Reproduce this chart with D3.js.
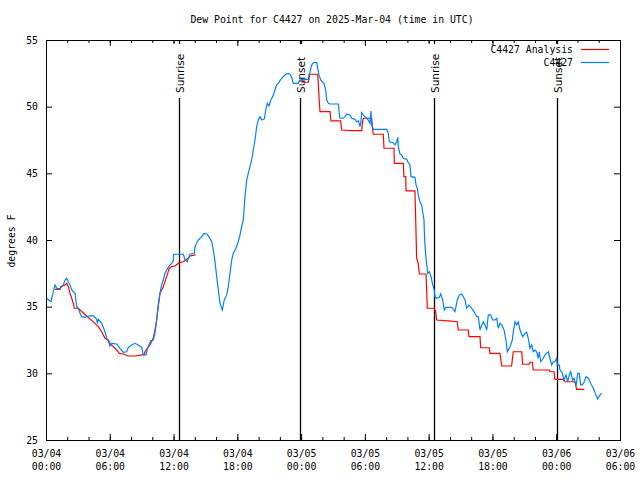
<!DOCTYPE html>
<html><head><meta charset="utf-8">
<script src="https://cdn.jsdelivr.net/npm/d3@7"></script>
<style>body{margin:0;background:#fff}</style>
</head><body>
<svg id="c" width="640" height="480"></svg>
<script>
// ---- data (hours since 2025-03-04 00:00 UTC, dew point °F) ----
const titleText = "Dew Point for C4427 on 2025-Mar-04 (time in UTC)";
const yLabel = "degrees F";
const yTicks = [25, 30, 35, 40, 45, 50, 55];
const seriesNames = ["C4427 Analysis", "C4427"];
const eventLabels = ["Sunrise", "Sunset", "Sunrise", "Sunset"];
const eventHours = [12.55, 23.93, 36.53, 48.04];

const observed = [
[0.07,35.63],[0.47,35.37],[0.69,36.12],[0.85,36.63],[1.0,36.38],[1.32,36.33],[1.48,36.5],[1.63,36.63],[1.79,37.0],[1.95,37.13],[2.1,36.87],[2.26,36.63],[2.42,36.25],[2.57,36.12],[2.73,36.0],[2.89,35.0],[3.04,34.88],[3.2,34.5],[3.36,34.25],[3.67,34.2],[3.98,34.3],[4.45,34.32],[4.61,34.2],[4.77,34.05],[4.83,33.75],[4.92,34.05],[5.24,33.75],[5.55,33.12],[5.71,32.63],[5.86,32.45],[6.02,32.05],[6.18,32.25],[6.65,32.2],[6.96,31.88],[7.27,31.58],[7.59,31.62],[7.74,31.95],[8.06,32.13],[8.37,32.25],[8.68,32.13],[9.0,31.95],[9.15,31.38],[9.41,31.38],[9.47,31.62],[9.62,32.0],[9.85,32.45],[10.09,32.5],[10.25,33.0],[10.41,34.0],[10.56,35.0],[10.72,36.0],[10.88,36.63],[11.03,37.0],[11.19,37.5],[11.35,37.75],[11.5,37.95],[11.66,38.13],[11.83,38.25],[11.98,38.43],[12.0,38.93],
[12.92,38.93],[13.08,38.55],[13.29,38.37],[13.55,38.93],[13.95,39.0],[14.02,39.5],[14.18,39.8],[14.33,40.0],[14.65,40.25],[14.86,40.5],[15.12,40.45],[15.33,40.25],[15.59,39.87],[15.74,39.25],[15.9,38.37],[16.06,37.25],[16.21,36.25],[16.37,35.25],[16.59,34.75],[16.77,35.5],[17.0,35.88],[17.15,36.5],[17.31,37.5],[17.47,38.5],[17.62,39.0],[17.87,39.38],[18.09,39.87],[18.25,40.38],[18.41,41.0],[18.56,41.5],
[18.72,43.25],[18.88,44.5],[19.03,45.0],[19.19,45.5],[19.35,46.0],[19.5,46.75],[19.66,47.5],[19.82,48.5],[19.97,49.0],[20.13,49.25],[20.29,49.0],[20.54,49.08],[20.7,49.88],[20.82,50.25],[20.98,50.05],[21.14,50.5],[21.33,50.75],[21.54,51.25],[21.7,51.63],[21.85,51.75],[22.01,51.95],[22.17,52.13],[22.32,52.25],[22.48,52.38],[22.64,52.45],[22.79,52.5],[22.95,52.45],[23.11,52.2],[23.26,51.75],[23.74,51.75],[23.89,52.0],[24.21,52.05],[24.58,52.05],[24.74,52.0],[24.84,52.63],[25.0,53.13],[25.15,53.3],[25.47,53.3],[25.56,52.88],[25.68,52.38],[25.84,52.0],[25.99,51.87],[26.15,51.75],[26.31,51.25],[26.41,50.5],[26.56,50.25],[26.72,50.2],[27.5,50.2],[27.59,49.5],[27.66,49.13],[27.97,49.13],[28.13,49.25],[28.29,49.45],[28.6,49.38],[28.76,49.13],[29.07,49.05],[29.23,48.87],[29.38,48.93],[29.54,48.5],[29.63,48.87],[29.7,49.55],[29.85,49.38],[30.01,49.25],[30.17,49.13],[30.32,49.0],[30.48,48.75],[30.57,49.68],[30.64,48.63],[30.79,48.3],[32.05,48.3],[32.2,48.0],[32.3,47.37],[32.67,47.3],[32.83,47.13],[32.99,47.37],[33.09,47.7],[33.14,47.0],[33.3,46.45],[33.46,46.38],[33.61,46.13],[33.93,46.05],[34.08,45.8],[34.24,45.63],[34.34,44.75],[34.71,44.7],[34.81,44.13],[34.93,43.88],[35.02,43.38],[35.18,42.87],[35.34,42.63],[35.44,42.12],[35.56,41.5],
[35.6,40.5],[35.65,39.63],[35.75,38.63],[35.91,37.5],[36.06,37.63],[36.22,37.25],[36.38,36.63],[36.53,36.25],[36.59,35.75],[36.75,35.63],[37.0,35.7],[37.13,35.95],[37.32,35.5],[37.47,34.75],[37.63,34.95],[38.17,34.95],[38.48,34.63],[38.69,35.5],[38.88,35.88],[39.11,35.95],[39.26,35.75],[39.42,35.5],[39.58,34.88],[39.79,35.13],[40.05,34.88],[40.2,34.7],[40.36,34.5],[40.52,34.25],[40.67,34.25],[40.83,33.25],[40.99,33.63],[41.14,33.87],[41.3,33.63],[41.46,33.25],[41.61,34.38],[41.84,34.38],[42.02,34.0],[42.24,34.0],[42.4,34.13],[42.55,33.38],[42.71,33.75],
[42.87,33.63],[43.09,33.25],[43.27,32.5],[43.4,31.62],[43.65,32.0],[43.87,32.5],[43.96,33.12],[44.12,33.87],[44.28,33.63],[44.43,33.87],[44.59,33.25],[44.84,32.75],[45.06,33.0],[45.22,33.08],[45.37,32.63],[45.53,31.88],[45.69,32.13],[45.84,31.62],[46.0,31.75],[46.16,31.62],[46.31,31.13],[46.41,31.62],[46.54,30.87],[46.78,31.13],[46.94,31.38],[47.1,31.5],[47.25,31.62],[47.41,31.13],[47.57,30.63],[47.72,30.87],[47.88,30.87],[48.04,31.13],[48.1,30.63],[48.29,30.63],[48.35,30.25],[48.51,30.12],[48.61,29.87],[48.73,29.5],[48.92,29.87],[49.08,29.37],[49.23,29.87],[49.36,30.12],[49.55,29.5],[49.67,29.63],[49.86,29.05],[50.02,30.0],[50.17,30.0],[50.3,29.13],[50.45,29.13],[50.64,29.37],[50.8,29.75],[51.02,29.63],[51.24,29.25],[51.49,28.88],[51.74,28.38],[51.9,28.08],[52.12,28.38],[52.28,28.5]
];

const analysisDay1 = [
[0.85,36.3],[1.32,36.3],[1.38,36.5],[1.79,36.63],[1.95,36.75],[2.1,36.5],[2.26,36.0],[2.42,35.63],[2.57,35.25],[2.66,34.88],[3.04,34.88],[3.2,34.75],[3.83,34.3],[4.61,33.75],[4.92,33.5],[5.24,33.12],[5.55,32.63],[5.86,32.5],[6.02,32.25],[6.33,32.0],[6.65,31.75],[6.9,31.5],[7.27,31.45],[7.74,31.3],[8.37,31.3],[9.0,31.38],[9.22,31.38],[9.31,31.62],[9.53,31.88],[9.78,32.13],[9.94,32.38],[10.09,32.63],[10.25,33.25],[10.41,34.0],[10.56,35.13],[10.72,36.0],[10.88,36.25],[11.03,36.5],[11.35,37.25],[11.6,37.88],[11.83,38.0],[12.14,38.05],[12.54,38.3],[12.92,38.37],[13.24,38.55],[13.55,38.8],[14.08,38.88]
];
const analysisDay2 = [
[24.03,51.83],[24.68,51.83],[24.74,52.43],[25.56,52.43],[25.62,51.75],[25.71,50.37],[25.78,49.63],[26.72,49.63],[26.81,48.93],[27.72,48.93],[27.82,48.25],[28.69,48.2],[29.7,48.2],[29.76,48.75],[29.85,49.13],[30.64,49.13],[30.7,48.5],[30.79,47.93],[31.73,47.93],[31.8,46.88],[32.74,46.88],[32.77,45.75],[33.61,45.75],[33.68,44.75],[33.84,44.75],[33.87,43.68],[34.71,43.68],[34.78,41.5],[34.87,38.63],[35.02,38.25],[35.12,37.45],[35.75,37.45],[35.81,36.25],[35.87,34.88],[36.53,34.88],[36.66,34.63],[36.75,34.0],[37.85,33.93],[38.69,33.87],[38.78,33.25],[39.73,33.25],[39.79,32.75],[40.83,32.75],[40.89,31.92],[41.7,31.92],[41.77,31.5],[42.71,31.5],[42.87,30.55],[43.8,30.55],[43.96,31.62],[44.75,31.62],[44.84,30.68],[45.46,30.68],[45.53,30.83],[45.75,30.83],[45.84,30.25],[47.35,30.25],[47.41,30.12],[47.79,30.12],[47.88,29.55],[48.66,29.55],[48.82,29.37],[49.76,29.37],[49.92,28.8],[50.64,28.8]
];

// ---- chart ----
const svg = d3.select("#c");
const mono = "'DejaVu Sans Mono', 'Liberation Mono', monospace";
const L = 46, R = 620, T = 40, B = 440;
const t0 = Date.UTC(2025, 2, 4, 0), t1 = Date.UTC(2025, 2, 6, 6);
const hr = h => new Date(t0 + h * 3600e3);
const x = d3.scaleUtc().domain([new Date(t0), new Date(t1)]).range([L, R]);
const y = d3.scaleLinear().domain([25, 55]).range([B, T]);

svg.append("rect").attr("width", 640).attr("height", 480).attr("fill", "#fff");

const minor = d3.utcHour.every(2).range(new Date(t0), new Date(t1 + 1));
const major = d3.utcHour.every(6).range(new Date(t0), new Date(t1 + 1));

function styleAxis(g) {
  g.select(".domain").remove();
  g.selectAll("line").attr("stroke", "#000");
  g.selectAll("text").attr("font-family", mono).attr("font-size", 9.8).attr("fill", "#000");
}
// minor ticks bottom / top
svg.append("g").attr("transform", `translate(0,${B})`)
  .call(d3.axisBottom(x).tickValues(minor).tickSize(-3).tickFormat("")).call(styleAxis);
svg.append("g").attr("transform", `translate(0,${T})`)
  .call(d3.axisTop(x).tickValues(minor).tickSize(-3).tickFormat("")).call(styleAxis);
// major ticks bottom with two-line labels
const fmtD = d3.utcFormat("%m/%d"), fmtT = d3.utcFormat("%H:%M");
const gx = svg.append("g").attr("transform", `translate(0,${B})`)
  .call(d3.axisBottom(x).tickValues(major).tickSize(-6).tickPadding(10).tickFormat(fmtD)).call(styleAxis);
gx.selectAll(".tick text").each(function(d) {
  const t = d3.select(this);
  t.text(null);
  t.append("tspan").attr("x", 0).text(fmtD(d));
  t.append("tspan").attr("x", 0).attr("dy", 13).text(fmtT(d));
});
svg.append("g").attr("transform", `translate(0,${T})`)
  .call(d3.axisTop(x).tickValues(major).tickSize(-6).tickFormat("")).call(styleAxis);
// y axis
svg.append("g").attr("transform", `translate(${L},0)`)
  .call(d3.axisLeft(y).tickValues(yTicks).tickSize(-6).tickPadding(8).tickFormat(d3.format("d"))).call(styleAxis);
svg.append("g").attr("transform", `translate(${R},0)`)
  .call(d3.axisRight(y).tickValues(yTicks).tickSize(-6).tickFormat("")).call(styleAxis);

// sunrise / sunset markers (behind data)
eventHours.forEach((h, i) => {
  const ex = Math.round(x(hr(h))) + 0.5;
  svg.append("line").attr("x1", ex).attr("x2", ex).attr("y1", T).attr("y2", B)
    .attr("stroke", "#000").attr("stroke-width", 1.3);
  svg.append("rect").attr("x", ex - 7).attr("y", T + 4).attr("width", 14).attr("height", 54).attr("fill", "#fff");
  svg.append("text").attr("transform", `translate(${ex + 4},93) rotate(-90)`)
    .attr("font-family", "'DejaVu Sans', sans-serif").attr("font-size", 10.5)
    .attr("fill", "#000").text(eventLabels[i]);
});

// border
svg.append("rect").attr("x", L + 0.5).attr("y", T + 0.5).attr("width", R - L).attr("height", B - T)
  .attr("fill", "none").attr("stroke", "#000");

// data lines
const line = d3.line().x(d => x(hr(d[0]))).y(d => y(d[1]));
const red = "#ff0000", blue = "#0080ff";
[analysisDay1, analysisDay2].forEach(s =>
  svg.append("path").attr("d", line(s)).attr("fill", "none").attr("stroke", red).attr("stroke-width", 1.2));
svg.append("path").attr("d", line(observed)).attr("fill", "none").attr("stroke", blue).attr("stroke-width", 1.2);

// title & y label
svg.append("text").attr("x", 332).attr("y", 23).attr("text-anchor", "middle")
  .attr("font-family", mono).attr("font-size", 9.8).text(titleText);
svg.append("text").attr("transform", "translate(15,241) rotate(-90)").attr("text-anchor", "middle")
  .attr("font-family", mono).attr("font-size", 9.8).text(yLabel);

// legend
const legColors = [red, blue];
seriesNames.forEach((n, i) => {
  const ly = 49.5 + i * 13;
  svg.append("text").attr("x", 573).attr("y", ly).attr("dy", "0.35em").attr("text-anchor", "end")
    .attr("font-family", mono).attr("font-size", 9.8).text(n);
  svg.append("line").attr("x1", 581).attr("x2", 609).attr("y1", ly).attr("y2", ly)
    .attr("stroke", legColors[i]).attr("stroke-width", 1.2);
});
</script>
</body></html>
